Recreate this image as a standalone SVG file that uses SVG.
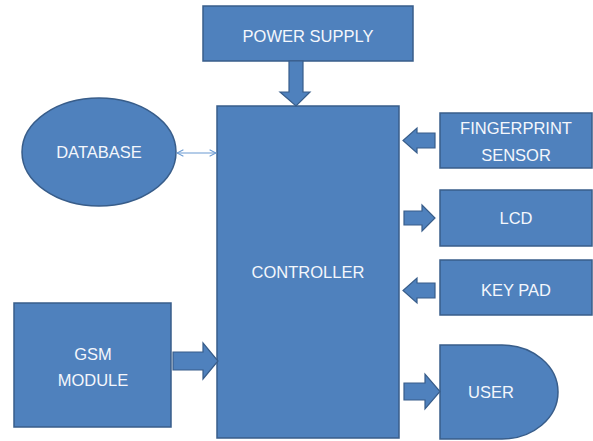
<svg xmlns="http://www.w3.org/2000/svg" width="593" height="441" viewBox="0 0 593 441">
  <style>
    .box { fill: #4F81BD; stroke: #385D8A; stroke-width: 1.5; }
    .arr { fill: #4F81BD; stroke: #385D8A; stroke-width: 1.2; }
    .lbl { font-family: "Liberation Sans", Arial, sans-serif; font-size: 16.5px; fill: #F4F7FC; text-anchor: middle; }
    .link { stroke: #6A9AD2; stroke-width: 1.2; fill: none; }
  </style>
  <defs>
    <marker id="open" viewBox="0 0 10 10" refX="9" refY="5" markerWidth="8" markerHeight="8" orient="auto-start-reverse" markerUnits="userSpaceOnUse">
      <path d="M1,1 L9,5 L1,9" fill="none" stroke="#6A9AD2" stroke-width="1.3"/>
    </marker>
  </defs>

  <g id="power-supply">
    <rect class="box" x="203" y="6" width="210" height="55"/>
    <text class="lbl" x="308" y="42">POWER SUPPLY</text>
  </g>

  <g id="database">
    <ellipse class="box" cx="99" cy="152" rx="77" ry="54"/>
    <text class="lbl" x="99" y="158">DATABASE</text>
  </g>

  <g id="controller">
    <rect class="box" x="217" y="106" width="182" height="332"/>
    <text class="lbl" x="308" y="278">CONTROLLER</text>
  </g>

  <g id="fingerprint-sensor">
    <rect class="box" x="440" y="113" width="152" height="55"/>
    <text class="lbl" x="516" y="134">FINGERPRINT</text>
    <text class="lbl" x="516" y="161">SENSOR</text>
  </g>

  <g id="lcd">
    <rect class="box" x="440" y="190" width="152" height="56"/>
    <text class="lbl" x="516" y="224">LCD</text>
  </g>

  <g id="key-pad">
    <rect class="box" x="440" y="260" width="152" height="55"/>
    <text class="lbl" x="516" y="296">KEY PAD</text>
  </g>

  <g id="user">
    <path class="box" d="M440,345 H502 A56,47 0 0 1 502,439 H440 Z"/>
    <text class="lbl" x="491" y="398">USER</text>
  </g>

  <g id="gsm-module">
    <rect class="box" x="14" y="303" width="157" height="124"/>
    <text class="lbl" x="93" y="360">GSM</text>
    <text class="lbl" x="93" y="386">MODULE</text>
  </g>

  <g id="connectors">
    <!-- power supply down into controller -->
    <path class="arr" d="M289,61 H303 V92 H310 L296,106 L280,92 H289 Z"/>
    <!-- database <-> controller -->
    <line class="link" x1="177" y1="153" x2="216" y2="153" marker-start="url(#open)" marker-end="url(#open)"/>
    <!-- fingerprint sensor into controller -->
    <path class="arr" d="M435,133 V148 H417 V153 L403,140.5 L417,128 V133 Z"/>
    <!-- controller out to LCD -->
    <path class="arr" d="M404,211 H422 V205 L435,218 L422,231 V225 H404 Z"/>
    <!-- key pad into controller -->
    <path class="arr" d="M435,283 V298 H417 V303 L403,290.5 L417,278 V283 Z"/>
    <!-- controller out to user -->
    <path class="arr" d="M404,383 H425 V374 L440,391.5 L425,409 V400 H404 Z"/>
    <!-- GSM module into controller -->
    <path class="arr" d="M173,352 H203 V343 L218,361 L203,379 V370 H173 Z"/>
  </g>
</svg>
